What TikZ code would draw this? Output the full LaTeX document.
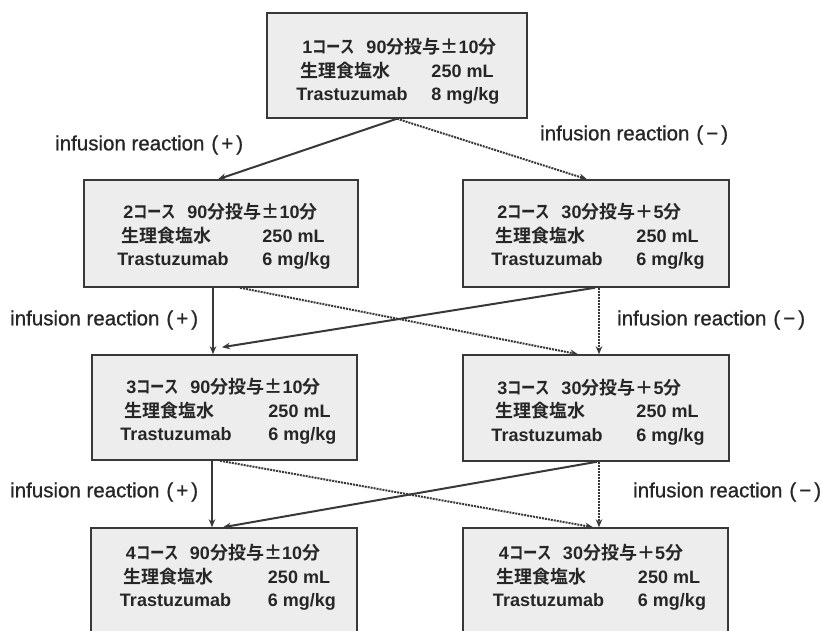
\documentclass[tikz,border=0pt]{standalone}
\usepackage{fontspec}
\usepackage{graphicx}
\setmainfont{Liberation Sans}
\newfontfamily\jp{Noto Sans CJK JP}[BoldFont={Noto Sans CJK JP Bold}]
\newfontfamily\lblfont{Liberation Sans}[FakeBold=0.8]
\usetikzlibrary{arrows.meta}
\definecolor{ink}{HTML}{262626}
\definecolor{edge}{HTML}{383838}
\definecolor{boxfill}{HTML}{EDEDED}
\newcommand{\crs}[4]{%
\begin{tabular}{@{}p{#4}@{}l@{}}
\multicolumn{2}{@{}l@{}}{\makebox[70pt][l]{\hspace{6pt}#1\scalebox{0.8}[1]{\jp\bfseries コース}}#2}\\
\hspace{4pt}{\jp\bfseries 生理食塩水} & 250 mL\\
Trastuzumab & #3
\end{tabular}}
\newcommand{\slow}{90{\jp\bfseries 分投与±}10{\jp\bfseries 分}}
\newcommand{\fast}{30{\jp\bfseries 分投与＋}5{\jp\bfseries 分}}
\newcommand{\pos}{\kern7pt(\kern3pt+\kern3pt)}
\newcommand{\negt}{\kern7pt(\kern3pt\textminus\kern3pt)}
\tikzset{
  box/.style={draw=edge, line width=1.5pt, fill=boxfill, inner sep=0pt},
  txt/.style={text=ink, font=\fontsize{18}{23.5}\selectfont\bfseries, inner sep=0pt},
  lbl/.style={text=ink, font=\lblfont\fontsize{20.5}{22}\selectfont, inner sep=0pt, anchor=west},
  yes/.style={draw=edge, line width=2pt, -{Stealth[length=8pt,width=6.5pt]}},
  no/.style={draw=edge, line width=2pt, densely dotted, -{Stealth[length=8pt,width=6.5pt]}}
}
\begin{document}
\begin{tikzpicture}[x=1pt,y=-1pt]
\useasboundingbox (0,0) rectangle (823,631);
\clip (0,0) rectangle (823,631);
% boxes
\node[box, minimum width=260pt, minimum height=105pt] (b1) at (397,65.5) {};
\node[box, minimum width=274pt, minimum height=107pt] (b2l) at (221,233.5) {};
\node[box, minimum width=266pt, minimum height=107pt] (b2r) at (596,233.5) {};
\node[box, minimum width=265pt, minimum height=105pt] (b3l) at (224.5,407.5) {};
\node[box, minimum width=266pt, minimum height=106pt] (b3r) at (596,408) {};
\node[box, minimum width=266pt, minimum height=107pt] (b4l) at (224,581.5) {};
\node[box, minimum width=265pt, minimum height=107pt] (b4r) at (595.5,581.5) {};
% texts
\node[txt] (t1) at ([xshift=1pt,yshift=-7pt]b1.center) {\crs{1}{\slow}{8 mg/kg}{135pt}};
\node[txt] (t2l) at ([xshift=3pt,yshift=-4pt]b2l.center) {\crs{2}{\slow}{6 mg/kg}{145pt}};
\node[txt] (t2r) at ([xshift=2pt,yshift=-4pt]b2r.center) {\crs{2}{\fast}{6 mg/kg}{145pt}};
\node[txt] (t3l) at ([xshift=4pt,yshift=-5pt]b3l.center) {\crs{3}{\slow}{6 mg/kg}{148pt}};
\node[txt] (t3r) at ([xshift=2pt,yshift=-5pt]b3r.center) {\crs{3}{\fast}{6 mg/kg}{145pt}};
\node[txt] (t4l) at ([xshift=4pt,yshift=3pt]b4l.center) {\crs{4}{\slow}{6 mg/kg}{148pt}};
\node[txt] (t4r) at ([xshift=4pt,yshift=3pt]b4r.center) {\crs{4}{\fast}{6 mg/kg}{145pt}};
% labels
\node[lbl] (l1) at (55,145) {infusion reaction\pos};
\node[lbl] (r1) at (540,135) {infusion reaction\negt};
\node[lbl] (l2) at (10,320) {infusion reaction\pos};
\node[lbl] (r2) at (617,320) {infusion reaction\negt};
\node[lbl] (l3) at (10,492) {infusion reaction\pos};
\node[lbl] (r3) at (633,492) {infusion reaction\negt};
% connectors row 1 -> 2
\draw[yes] (b1.south) -- ([xshift=-3pt]b2l.north);
\draw[no]  (b1.south) -- ([xshift=-9pt]b2r.north);
% row 2 -> 3
\draw[yes] ([xshift=-8pt]b2l.south) -- ([xshift=-11.5pt]b3l.north);
\draw[no]  ([xshift=19pt]b2l.south) -- ([xshift=-18pt]b3r.north);
\draw[yes] ([xshift=-1pt]b2r.south) -- ([xshift=-2.5pt,yshift=7pt]b3l.north);
\draw[no]  ([xshift=3pt]b2r.south) -- ([xshift=3pt]b3r.north);
% row 3 -> 4
\draw[yes] ([xshift=-12.5pt]b3l.south) -- ([xshift=-12pt]b4l.north);
\draw[no]  ([xshift=-4.5pt]b3l.south) -- ([xshift=-2.5pt]b4r.north);
\draw[yes] ([xshift=1pt]b3r.south) -- ([xshift=-1pt]b4l.north);
\draw[no]  ([xshift=3pt]b3r.south) -- ([xshift=3.5pt]b4r.north);
\end{tikzpicture}
\end{document}
